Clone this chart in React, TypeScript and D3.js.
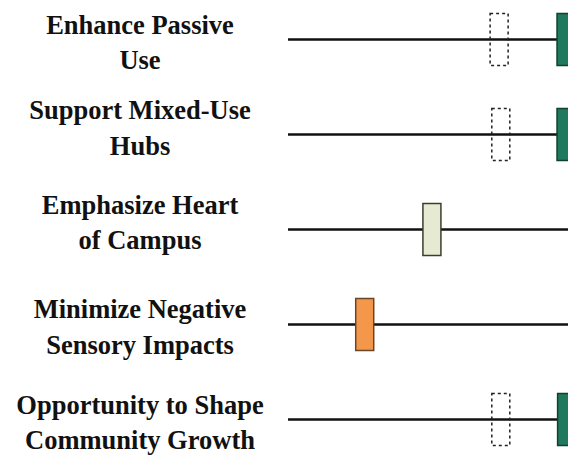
import React from "react";
import * as d3 from "d3";

const categories: string[][] = [
  ["Enhance Passive", "Use"],
  ["Support Mixed-Use", "Hubs"],
  ["Emphasize Heart", "of Campus"],
  ["Minimize Negative", "Sensory Impacts"],
  ["Opportunity to Shape", "Community Growth"],
];
// current score (solid marker) per category
const currentValues: number[] = [99.3, 99.3, 51.4, 27.4, 99.5];
// previous / target score (dashed outline) per category, null if none
const previousValues: (number | null)[] = [75.4, 76.0, null, null, 76.0];
const markerColors: string[] = ["#1f7a5d", "#1f7a5d", "#e6ead3", "#f4974a", "#1f7a5d"];
const markerStrokes: string[] = ["#123f31", "#123f31", "#3d3d2c", "#6a4527", "#123f31"];

const W = 568;
const H = 457;
// layout: first-line baseline offset of each label relative to its row line
const labelOffsets = [-6, -15.5, -16, -6.3, -5.8];

export default function App() {
  const x = d3.scaleLinear().domain([0, 100]).range([288, 568]);
  const y = d3
    .scaleBand<number>()
    .domain(categories.map((_, i) => i))
    .range([-8, 467]);
  const boxW = 18;
  const boxH = 52;
  const lineH = 35.5;
  return (
    <svg
      width={W}
      height={H}
      style={{ position: "absolute", left: 0, top: 0, background: "#fff" }}
    >
      {categories.map((lines, i) => {
        const cy = (y(i) as number) + y.bandwidth() / 2;
        const prev = previousValues[i];
        return (
          <g key={i}>
            <text
              x={140}
              y={cy + labelOffsets[i]}
              textAnchor="middle"
              style={{
                fontFamily: "'Liberation Serif', serif",
                fontSize: "26.5px",
                fontWeight: 700,
              }}
              fill="#111"
            >
              {lines.map((l, j) => (
                <tspan key={j} x={140} dy={j === 0 ? 0 : lineH}>
                  {l}
                </tspan>
              ))}
            </text>
            <line
              x1={x(0)}
              x2={x(100)}
              y1={cy}
              y2={cy}
              stroke="#111"
              strokeWidth={2.5}
            />
            {prev !== null && (
              <rect
                x={x(prev) - boxW / 2}
                y={cy - boxH / 2}
                width={boxW}
                height={boxH}
                fill="none"
                stroke="#222"
                strokeWidth={1.5}
                strokeDasharray="3,3"
              />
            )}
            <rect
              x={x(currentValues[i]) - boxW / 2}
              y={cy - boxH / 2}
              width={boxW}
              height={boxH}
              fill={markerColors[i]}
              stroke={markerStrokes[i]}
              strokeWidth={1.5}
            />
          </g>
        );
      })}
    </svg>
  );
}
